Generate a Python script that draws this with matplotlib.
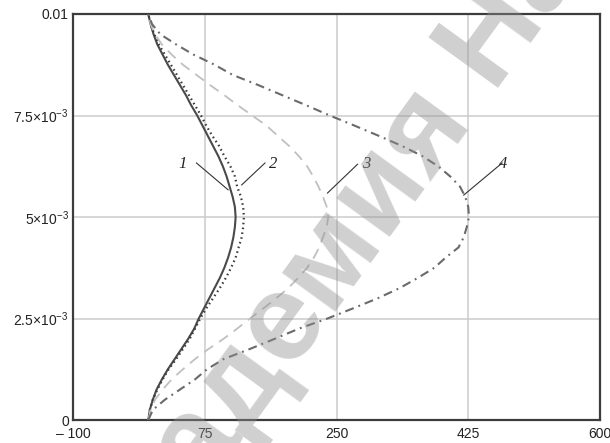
import matplotlib
matplotlib.use('Agg')
import matplotlib.pyplot as plt
import numpy as np

# Channel height coordinate, m
y = np.array([0.0, 0.25, 0.5, 0.75, 1.0, 1.25, 1.5, 1.75, 2.0, 2.25, 2.5,
              2.75, 3.0, 3.25, 3.5, 3.75, 4.0, 4.25, 4.5, 4.75, 5.0,
              5.25, 5.5, 5.75, 6.0, 6.25, 6.5, 6.75, 7.0, 7.25, 7.5,
              7.75, 8.0, 8.25, 8.5, 8.75, 9.0, 9.25, 9.5, 9.75, 10.0]) * 1e-3

# Velocity profiles for the four cases
u1 = [0, 2, 6, 11, 18, 26, 35, 44, 53, 61, 67,
      74, 81, 88, 95, 101, 106, 110, 113, 115, 116,
      115, 112, 108, 104, 99, 93, 86, 79, 72, 65,
      57, 50, 42, 34, 26, 19, 12, 7, 3, 0]
u2 = [0, 2, 6, 12, 19, 27, 37, 46, 55, 62, 69,
      77, 86, 95, 103, 110, 116, 120, 124, 126, 127,
      126, 123, 118, 115, 109, 101, 94, 85, 77, 70,
      62, 54, 46, 38, 30, 22, 14, 8, 3, 0]
u3 = [0, 3, 9, 19, 31, 46, 62, 80, 100, 118, 135,
      153, 170, 186, 199, 211, 220, 227, 232, 237, 239,
      237, 232, 226, 219, 211, 200, 187, 172, 157, 138,
      119, 101, 82, 64, 46, 31, 18, 9, 3, 0]
u4 = [0, 6, 22, 42, 62, 78, 100, 135, 168, 200, 238,
      272, 305, 334, 358, 380, 395, 412, 419, 423, 426,
      425, 421, 414, 401, 385, 364, 337, 306, 274, 241,
      210, 178, 146, 112, 88, 60, 37, 16, 5, 0]

labels = ['1', '2', '3', '4']
xticks = [-100, 75, 250, 425, 600]
xticklabels = ['\u2013 100', '75', '250', '425', '600']
yticks = [0, 2.5e-3, 5e-3, 7.5e-3, 0.01]
yticklabels = ['0', r'$\mathregular{2.5{\times}10^{-3}}$', r'$\mathregular{5{\times}10^{-3}}$',
               r'$\mathregular{7.5{\times}10^{-3}}$', '0.01']

plt.rcParams['mathtext.fontset'] = 'custom'
plt.rcParams['mathtext.rm'] = 'Liberation Sans'

fig = plt.figure(figsize=(6.1, 4.43), dpi=100)
ax = fig.add_axes([0.1197, 0.0519, 0.8639, 0.9165])

ax.plot(u1, y, color='#4a4a4a', lw=1.5, ls='-', zorder=3)
ax.plot(u2, y, color='#3a3a3a', lw=1.6, ls=(0, (0.7, 1.5)), zorder=3)
ax.plot(u3, y, color='#c0c0c0', lw=1.3, ls=(0, (6, 4)), zorder=3)
ax.plot(u4, y, color='#6a6a6a', lw=1.5, ls=(0, (4.3, 2.4, 0.9, 2.4)), zorder=3)

# curve numbers with leader lines
label_xy = [(46, 6.30e-3), (166, 6.30e-3), (290, 6.30e-3), (472, 6.30e-3)]
leaders = [((64, 6.33e-3), (106, 5.67e-3)),
           ((155, 6.33e-3), (124, 5.79e-3)),
           ((278, 6.30e-3), (238, 5.59e-3)),
           ((470, 6.33e-3), (419, 5.54e-3))]
for lab, (tx, ty), (p0, p1) in zip(labels, label_xy, leaders):
    ax.text(tx, ty, lab, fontsize=12, family='Liberation Serif', style='italic',
            ha='center', va='center', color='#222222')
    ax.plot([p0[0], p1[0]], [p0[1], p1[1]], color='#333333', lw=0.8)

ax.set_xlim(-100, 600)
ax.set_ylim(0, 0.01)
ax.set_xticks(xticks)
ax.set_xticklabels(xticklabels)
ax.set_yticks(yticks)
ax.set_yticklabels(yticklabels)
ax.tick_params(length=0, labelsize=10, colors='#222222')
ax.tick_params(axis='x', pad=5)
ax.tick_params(axis='y', pad=3)
for lab in ax.get_xticklabels() + ax.get_yticklabels():
    lab.set_family('Liberation Sans')
ax.grid(True, color='#cccccc', lw=1.1)
ax.set_axisbelow(True)
for s in ax.spines.values():
    s.set_color('#3c3c3c')
    s.set_linewidth(1.6)

fig.text(0.533, 0.386, 'Академия На', fontsize=90, family='Liberation Sans',
         weight='bold', color='#909090', alpha=0.42, rotation=54,
         ha='center', va='center', rotation_mode='anchor', zorder=10)

fig.savefig('out.png', dpi=100)
